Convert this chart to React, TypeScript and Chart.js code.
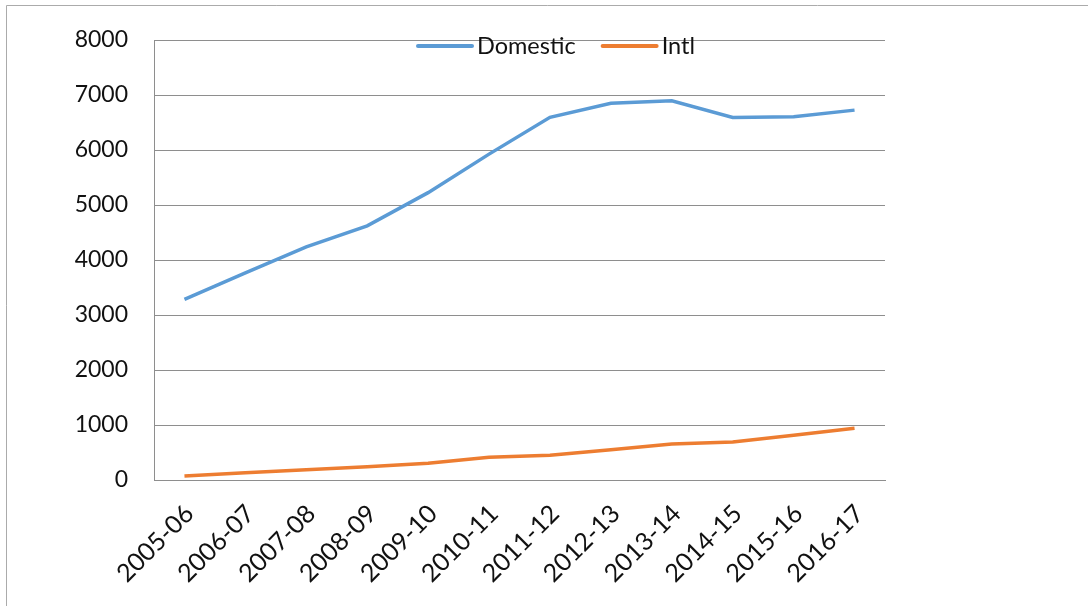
import React, { useEffect, useRef } from "react";
import { Chart, registerables } from "chart.js";

Chart.register(...registerables);

const years = [
  "2005-06", "2006-07", "2007-08", "2008-09", "2009-10", "2010-11",
  "2011-12", "2012-13", "2013-14", "2014-15", "2015-16", "2016-17",
];
const domestic = [3285, 3765, 4240, 4620, 5225, 5925, 6595, 6850, 6895, 6590, 6605, 6725];
const intl = [73, 130, 187, 243, 303, 412, 448, 552, 655, 691, 812, 939];
const yTicks = [0, 1000, 2000, 3000, 4000, 5000, 6000, 7000, 8000];

const FONT = "Lato, 'Open Sans', sans-serif";
const GRID = "#8e8e8e";

// Thin frame along the top and left edges of the canvas
const framePlugin = {
  id: "frame",
  beforeDraw(chart: any) {
    const ctx = chart.ctx;
    ctx.save();
    ctx.strokeStyle = "#ababab";
    ctx.lineWidth = 1;
    ctx.beginPath();
    ctx.moveTo(6.5, chart.height);
    ctx.lineTo(6.5, 5.5);
    ctx.lineTo(chart.width, 5.5);
    ctx.stroke();
    ctx.restore();
  },
};

// Legend drawn over the top gridline of the plot
const overlayLegend = {
  id: "overlayLegend",
  afterDraw(chart: any) {
    const ctx = chart.ctx;
    const area = chart.chartArea;
    const y = area.top + 6;
    let x = area.left + 264;
    ctx.save();
    ctx.font = `23.5px ${FONT}`;
    ctx.textBaseline = "middle";
    ctx.textAlign = "left";
    chart.data.datasets.forEach((ds: any) => {
      ctx.strokeStyle = ds.borderColor;
      ctx.lineWidth = 4;
      ctx.lineCap = "round";
      ctx.beginPath();
      ctx.moveTo(x, y);
      ctx.lineTo(x + 54, y);
      ctx.stroke();
      x += 59;
      ctx.fillStyle = "#111";
      ctx.fillText(ds.label, x, y);
      x += ctx.measureText(ds.label).width + 27;
    });
    ctx.restore();
  },
};

export default function App() {
  const ref = useRef<HTMLCanvasElement>(null);

  useEffect(() => {
    if (!ref.current) return;
    const chart = new Chart(ref.current, {
      type: "line",
      data: {
        labels: years,
        datasets: [
          {
            label: "Domestic",
            data: domestic,
            borderColor: "#5b9bd5",
            backgroundColor: "#5b9bd5",
            borderWidth: 3.5,
            pointRadius: 0,
            tension: 0,
          },
          {
            label: "Intl",
            data: intl,
            borderColor: "#ed7d31",
            backgroundColor: "#ed7d31",
            borderWidth: 3.5,
            pointRadius: 0,
            tension: 0,
          },
        ],
      },
      options: {
        animation: false,
        responsive: false,
        maintainAspectRatio: false,
        layout: { padding: { top: 40, right: 203, left: 0, bottom: 0 } },
        plugins: {
          legend: { display: false },
          tooltip: { enabled: false },
        },
        scales: {
          x: {
            offset: true,
            grid: { display: false, drawTicks: false },
            border: { display: true, color: GRID, width: 1 },
            ticks: {
              autoSkip: false,
              minRotation: 45,
              maxRotation: 45,
              padding: 19,
              labelOffset: 5,
              color: "#111",
              font: { family: FONT, size: 25 },
            },
            afterFit(scale: any) {
              scale.height = 126;
            },
          },
          y: {
            min: 0,
            max: 8000,
            afterBuildTicks(scale: any) {
              scale.ticks = yTicks.map((v) => ({ value: v }));
            },
            grid: { color: GRID, lineWidth: 1, drawTicks: false },
            border: { display: true, color: GRID, width: 1 },
            ticks: {
              padding: 26,
              color: "#111",
              font: { family: FONT, size: 23 },
              callback: (v: any) => String(v),
            },
            afterFit(scale: any) {
              scale.width = 154;
            },
          },
        },
      },
      plugins: [framePlugin, overlayLegend],
    });
    return () => chart.destroy();
  }, []);

  return (
    <div style={{ position: "fixed", left: 0, top: 0, width: 1088, height: 606, background: "#fff" }}>
      <canvas ref={ref} width={1088} height={606} style={{ display: "block" }} />
    </div>
  );
}
